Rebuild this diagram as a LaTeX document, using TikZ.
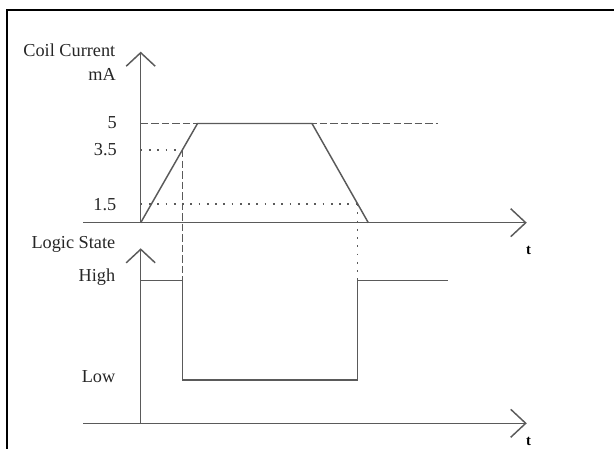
\documentclass[tikz,border=0pt]{standalone}
\usepackage{fontspec}
\setmainfont{Liberation Serif}
\usetikzlibrary{calc}
\definecolor{linegray}{HTML}{5A5A5A}
\begin{document}
\begin{tikzpicture}[x=0.75pt,y=-0.75pt,
  sig/.style={draw=linegray, line width=1.1pt},
  axisline/.style={draw=linegray, line width=1.1pt},
  dashline/.style={draw=linegray, line width=1.1pt, dash pattern=on 5.6pt off 2.3pt},
  dotline/.style={draw=linegray, line width=1.2pt, dash pattern=on 1.3pt off 4.9pt},
  lbl/.style={inner sep=0pt, anchor=base east, text=black!85, font=\fontsize{13.7}{16}\selectfont},
  tlbl/.style={inner sep=0pt, font=\fontsize{11}{13}\selectfont\bfseries}
]
\useasboundingbox (0,0) rectangle (614,449);
% frame
\draw[line width=1.5pt, black] (7.3,460) -- (7.3,10) -- (630,10);

% coordinates, upper chart
\coordinate (o1) at (140.7,222.7);
\coordinate (ytop1) at (140.7,52.7);
\coordinate (xs1) at (83,222.7);
\coordinate (xe1) at (525.7,222.7);
\coordinate (r1) at (197.5,123.5);
\coordinate (r2) at (312,123.5);
\coordinate (r3) at (368.3,222.7);
\coordinate (d5s) at (140.7,123.5);
\coordinate (d5e) at (438,123.5);
\coordinate (a35) at (140.7,150);
\coordinate (p35) at (182.5,150);
\coordinate (a15) at (140.7,204);
\coordinate (p15) at (357.5,204);
% lower chart
\coordinate (o2) at (140.7,423.3);
\coordinate (ytop2) at (140.7,249.3);
\coordinate (xs2) at (83,423.3);
\coordinate (xe2) at (525.7,423.3);
\coordinate (h0) at (140.7,280.3);
\coordinate (h1) at (182.5,280.3);
\coordinate (l1) at (182.5,380);
\coordinate (l2) at (357.5,380);
\coordinate (h2) at (357.5,280.3);
\coordinate (h3) at (448.3,280.3);

% axes upper
\draw[axisline] (o1) -- (ytop1);
\draw[axisline] ($(ytop1)+(-14.5,13.5)$) -- (ytop1) -- ($(ytop1)+(14.5,13.5)$);
\draw[axisline] (xs1) -- (xe1);
\draw[axisline] ($(xe1)+(-15,-14)$) -- (xe1) -- ($(xe1)+(-15,14)$);
% axes lower
\draw[axisline] (o2) -- (ytop2);
\draw[axisline] ($(ytop2)+(-14.5,13.5)$) -- (ytop2) -- ($(ytop2)+(14.5,13.5)$);
\draw[axisline] (xs2) -- (xe2);
\draw[axisline] ($(xe2)+(-15,-14)$) -- (xe2) -- ($(xe2)+(-15,14)$);

% guide lines
\draw[dashline] (d5s) -- (d5e);
\draw[dotline] (a35) -- (p35);
\draw[dotline] (a15) -- (p15);
\draw[dashline] (p35) -- (h1);
\draw[dotline] (p15) -- (h2);

% coil current
\draw[sig] (o1) -- (r1) -- (r2) -- (r3);
% logic state
\draw[sig] (h0) -- (h1) -- (l1) -- (l2) -- (h2) -- (h3);

% labels
\node[lbl] (lcoil) at (115.5,56.7) {Coil Current};
\node[lbl] (lma) at (116,81) {mA};
\node[lbl] (l5) at (117,129) {5};
\node[lbl] (l35) at (117,156) {3.5};
\node[lbl] (l15) at (116.5,210) {1.5};
\node[lbl] (llogic) at (115.5,248.5) {Logic State};
\node[lbl] (lhigh) at (115.5,281) {High};
\node[lbl] (llow) at (115.5,382) {Low};
\node[tlbl] (t1) at (528.5,250.5) {t};
\node[tlbl] (t2) at (528.5,441.5) {t};
\end{tikzpicture}
\end{document}
